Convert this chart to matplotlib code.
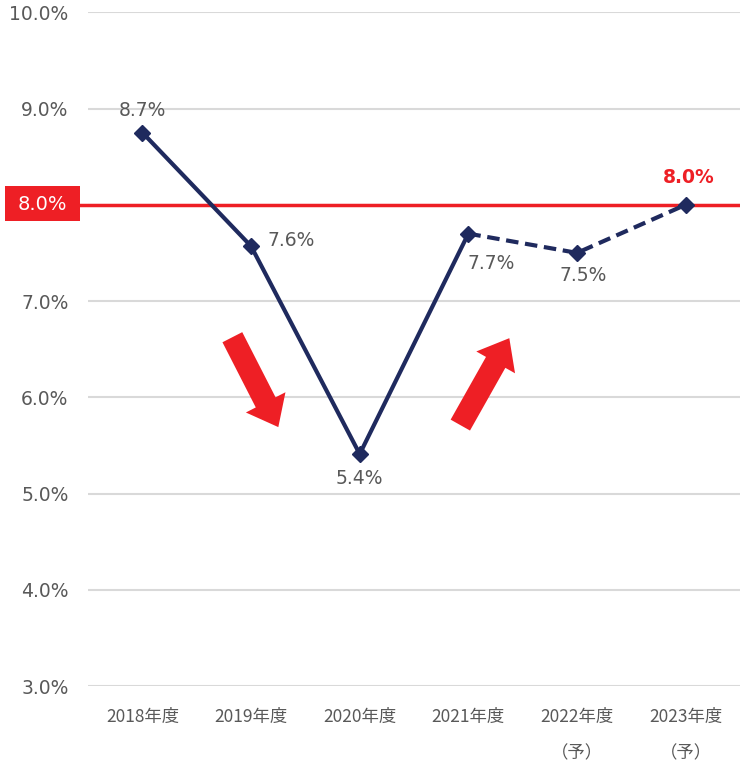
import matplotlib
matplotlib.use("Agg")
import matplotlib.pyplot as plt
import matplotlib.transforms as mtransforms
from matplotlib.patches import Rectangle

plt.rcParams['font.family'] = ['DejaVu Sans', 'Noto Sans CJK JP']

years = ["2018年度", "2019年度", "2020年度", "2021年度", "2022年度\n（予）", "2023年度\n（予）"]
rates = [8.75, 7.57, 5.41, 7.70, 7.50, 8.00]
labels = ["8.7%", "7.6%", "5.4%", "7.7%", "7.5%", "8.0%"]
target = 8.0
yticks = [3.0, 4.0, 5.0, 6.0, 7.0, 8.0, 9.0, 10.0]

navy = "#1F2A5E"
red = "#EE1F25"
gray = "#595959"

fig = plt.figure(figsize=(7.4, 7.66), dpi=100)
ax = fig.add_axes([0.119, 0.1044, 0.881, 0.8796])

x = list(range(len(years)))

# actual (solid) and forecast (dashed)
ax.plot(x[:4], rates[:4], color=navy, lw=3, solid_capstyle='round', zorder=4)
ax.plot(x[3:], rates[3:], color=navy, lw=3, ls=(0, (3, 1.6)), zorder=4)
ax.plot(x, rates, 'D', color=navy, ms=8.5, zorder=5)

# target line + label box on the left
trans = mtransforms.blended_transform_factory(ax.transAxes, ax.transData)
ax.plot([-0.013, 1.0], [target, target], color=red, lw=2.5, zorder=3,
        transform=trans, clip_on=False)
ax.add_patch(Rectangle((-0.1273, 7.829), 0.1150, 0.364, transform=trans,
                       fc=red, ec='none', clip_on=False, zorder=6))
ax.text(-0.0698, target, "8.0%", color="white", fontsize=14, ha='center', va='center',
        transform=trans, zorder=7, clip_on=False)

# data labels
offsets = [(0, 22), (40, 6), (0, -24), (23, -30), (6, -23), (3, 27)]
for i, (dx, dy) in enumerate(offsets):
    if i == 5:
        ax.annotate(labels[i], (x[i], rates[i]), xytext=(dx, dy), textcoords='offset pixels',
                    ha='center', va='center', fontsize=13.5, color=red, fontweight='bold')
    else:
        ax.annotate(labels[i], (x[i], rates[i]), xytext=(dx, dy), textcoords='offset pixels',
                    ha='center', va='center', fontsize=13.5, color=gray)

# trend arrows
arrow_style = 'simple,head_length=20,head_width=32,tail_width=16'
ax.annotate("", xy=(1.251, 5.69), xytext=(0.828, 6.624),
            arrowprops=dict(arrowstyle=arrow_style, color=red, mutation_scale=1,
                            shrinkA=0, shrinkB=0, lw=0), zorder=2)
ax.annotate("", xy=(3.377, 6.614), xytext=(2.926, 5.711),
            arrowprops=dict(arrowstyle=arrow_style, color=red, mutation_scale=1,
                            shrinkA=0, shrinkB=0, lw=0), zorder=2)

ax.set_xlim(-0.5, 5.5)
ax.set_ylim(3.0, 10.0)
ax.set_yticks(yticks)
ax.set_yticklabels(["" if v == target else f"{v:.1f}%" for v in yticks])
ax.set_xticks(x)
ax.set_xticklabels(years, family=['Noto Sans CJK JP', 'DejaVu Sans'], fontsize=12.5,
                   color=gray, linespacing=2.3)
ax.tick_params(axis='y', length=0, pad=14, labelsize=13.5, labelcolor=gray)
ax.tick_params(axis='x', length=0, pad=16)
ax.grid(axis='y', color='#D9D9D9', lw=1.5)
ax.set_axisbelow(True)
for s in ax.spines.values():
    s.set_visible(False)

fig.savefig("out.png", dpi=100)
